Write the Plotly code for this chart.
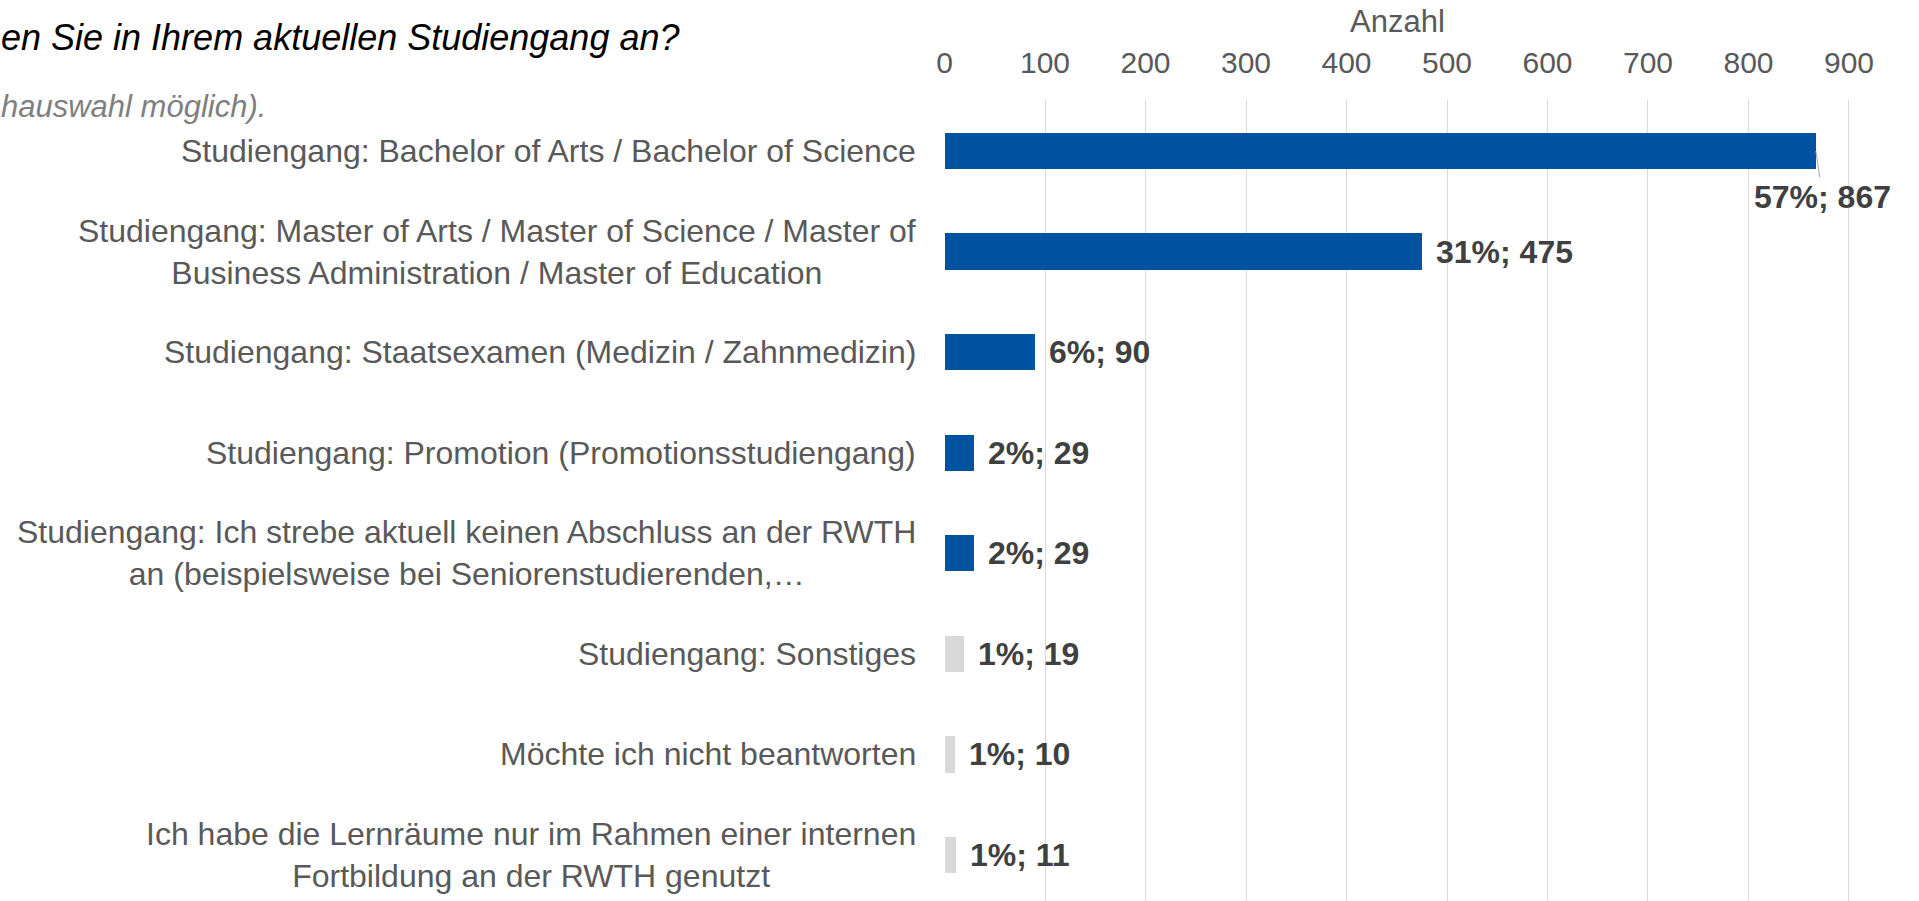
import plotly.graph_objects as go

categories = [
    "Studiengang: Bachelor of Arts / Bachelor of Science",
    "Studiengang: Master of Arts / Master of Science / Master of<br>Business Administration / Master of Education",
    "Studiengang: Staatsexamen (Medizin / Zahnmedizin)",
    "Studiengang: Promotion (Promotionsstudiengang)",
    "Studiengang: Ich strebe aktuell keinen Abschluss an der RWTH<br>an (beispielsweise bei Seniorenstudierenden,…",
    "Studiengang: Sonstiges",
    "Möchte ich nicht beantworten",
    "Ich habe die Lernräume nur im Rahmen einer internen<br>Fortbildung an der RWTH genutzt",
]
counts = [867, 475, 90, 29, 29, 19, 10, 11]
percents = [57, 31, 6, 2, 2, 1, 1, 1]
tick_values = [0, 100, 200, 300, 400, 500, 600, 700, 800, 900]
title_text = "en Sie in Ihrem aktuellen Studiengang an?"
subtitle_text = "hauswahl möglich)."
axis_title = "Anzahl"

BLUE = "#00549F"
GRAY = "#D9D9D9"
bar_colors = [BLUE] * 5 + [GRAY] * 3

W, H = 1919, 901
L, R = 944.3, 1850.7
T, B = 100, 0
PW = R - L
PH = H - T - B
FONT = "Liberation Sans, Arial, sans-serif"

fig = go.Figure()
fig.add_trace(go.Bar(
    x=counts, y=categories, orientation="h",
    marker=dict(color=bar_colors, line=dict(width=0)),
    width=0.36, hoverinfo="skip",
))

annotations = []
# category labels
for c in categories:
    annotations.append(dict(
        x=0, xref="paper", y=c, yref="y", xanchor="right", yanchor="middle",
        xshift=-26, text=c, align="center", showarrow=False,
        font=dict(family=FONT, size=32, color="#595959"),
    ))
# data labels
for i, (c, v, p) in enumerate(zip(categories, counts, percents)):
    txt = f"<b>{p}%; {v}</b>"
    if i == 0:
        annotations.append(dict(
            x=v, y=c, xref="x", yref="y", text=txt, showarrow=True,
            ax=7, ay=46, arrowhead=0, arrowwidth=1, arrowcolor="#A6A6A6",
            standoff=0, startstandoff=0,
            font=dict(family=FONT, size=32, color="#404040"),
        ))
    else:
        annotations.append(dict(
            x=v, y=c, xref="x", yref="y", text=txt, showarrow=False,
            xanchor="left", yanchor="middle", xshift=12,
            font=dict(family=FONT, size=32, color="#404040"),
        ))
# title and subtitle (cut at the left edge like the reference)
annotations.append(dict(
    x=-L / PW, xref="paper", y=1 + (T - 37) / PH, yref="paper",
    xanchor="left", yanchor="middle", text=f"<i>{title_text}</i>", showarrow=False,
    font=dict(family=FONT, size=36, color="#000000"),
))
annotations.append(dict(
    x=-L / PW, xref="paper", y=1 - (106 - T) / PH, yref="paper",
    xanchor="left", yanchor="middle", text=f"<i>{subtitle_text}</i>", showarrow=False,
    font=dict(family=FONT, size=31, color="#7F7F7F"),
))

fig.update_layout(
    width=W, height=H,
    margin=dict(l=L, r=W - R, t=T, b=B, pad=0),
    paper_bgcolor="white", plot_bgcolor="white",
    showlegend=False,
    bargap=0,
    annotations=annotations,
    xaxis=dict(
        side="top", range=[-0.5, 902], tickvals=tick_values,
        showgrid=True, gridcolor="#D9D9D9", gridwidth=1.3,
        zeroline=False, showline=False, ticks="",
        ticklabelstandoff=20,
        tickfont=dict(family=FONT, size=30, color="#595959"),
        title=dict(text=axis_title, font=dict(family=FONT, size=31, color="#595959"), standoff=4),
    ),
    yaxis=dict(
        type="category", categoryorder="array", categoryarray=categories,
        range=[7.457, -0.507], showticklabels=False, showgrid=False,
        zeroline=False, showline=False,
    ),
)

fig.write_html(
    "out.html",
    config={"displayModeBar": False},
    post_script="document.body.style.margin='0';document.body.style.overflow='hidden';",
)
